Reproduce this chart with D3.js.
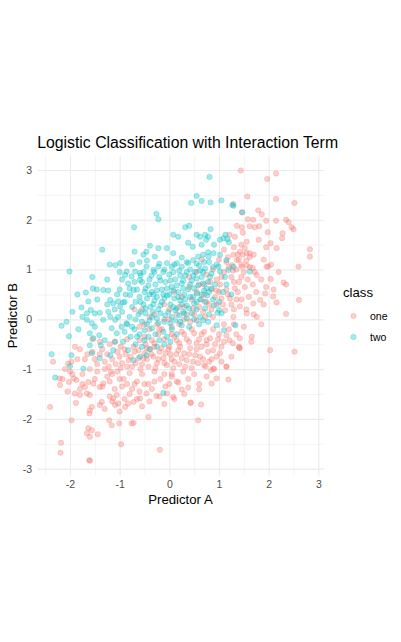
<!DOCTYPE html>
<html>
<head>
<meta charset="utf-8">
<script src="https://d3js.org/d3.v7.min.js"></script>
<style>
  body { margin: 0; background: #fff; }
  text { font-family: "Liberation Sans", Arial, Helvetica, sans-serif; }
  .grid line { stroke: #EBEBEB; }
  .grid path { display: none; }
  .axis path, .axis line { display: none; }
  .axis text { fill: #4D4D4D; font-size: 10.5px; }
</style>
</head>
<body>
<div id="chart"></div>
<script>
// Chart data
const classNames = ['one', 'two'];
const classColors = ['#F8766D', '#00BFC4'];
const majorTicks = [-3, -2, -1, 0, 1, 2, 3];
const minorTicks = [-2.5, -1.5, -0.5, 0.5, 1.5, 2.5];

const classOne = [
  [1.44,2.99],[2.15,2.93],[1.97,2.82],[1.57,2.47],[2.15,2.42],[2.52,2.34],[1.29,2.32],[1.79,2.19],[1.86,2.11],[1.46,2.15],
  [1.58,2.01],[1.69,2.00],[1.95,1.98],[2.15,1.98],[2.35,2.00],[2.40,1.95],[1.36,1.88],[1.46,1.85],[1.62,1.87],[1.72,1.85],
  [1.81,1.87],[1.98,1.75],[2.28,1.73],[2.46,1.85],[2.50,1.81],[1.21,1.70],[1.32,1.66],[1.48,1.74],[2.27,1.63],[2.04,1.53],
  [2.16,1.43],[2.83,1.41],[2.83,1.26],[1.56,1.56],[1.52,1.43],[1.56,1.33],[1.62,1.33],[1.42,1.36],[1.29,1.30],[1.36,1.19],
  [1.26,1.09],[1.46,1.06],[1.56,1.08],[1.68,1.03],[1.76,0.89],[1.96,1.06],[1.99,1.06],[2.60,1.06],[2.04,0.81],[2.30,0.74],
  [1.93,0.52],[2.09,0.46],[2.16,0.34],[2.61,0.39],[1.83,0.39],[1.69,0.32],[1.76,0.05],[1.56,0.12],[1.29,0.05],[1.42,0.26],
  [2.35,0.11],[2.03,-0.62],[2.52,-0.65],[1.66,-0.35],[1.42,-0.38],[1.21,-0.42],[1.42,-0.58],[1.02,-0.68],[1.15,-0.95],[1.19,-1.21],
  [0.95,-1.19],[0.84,-1.02],[0.89,-0.99],[0.73,-0.95],[0.58,-2.03],[0.43,-1.68],[0.60,-1.41],[0.25,-1.41],[0.08,-1.56],[-0.05,-1.49],
  [-0.26,-1.54],[-0.46,-1.49],[-0.59,-1.59],[-0.72,-1.66],[-0.19,-2.62],[-0.42,-1.96],[-0.76,-2.09],[-0.72,-2.08],[-1.01,-2.09],[-1.16,-2.13],
  [-1.21,-2.03],[-0.97,-2.51],[-1.97,-2.03],[-1.61,-2.83],[-1.60,-2.84],[-2.18,-2.48],[-2.19,-2.68],[-2.40,-1.76],[-1.63,-2.19],[-1.56,-2.23],
  [-1.66,-2.29],[-1.60,-2.36],[-1.44,-2.31],[-2.20,-1.32],[-2.21,-1.19],[-2.34,-0.85],[-2.02,-1.26],[-1.92,-1.19],[-1.87,-1.22],[-2.00,-1.05],
  [-2.04,-0.89],[-1.97,-0.85],[-1.90,-1.49],[-1.88,-1.68],[-1.80,-1.52],[-1.66,-1.49],[-1.60,-1.52],[-1.70,-1.36],[-1.63,-1.26],[-1.53,-1.29],
  [-1.40,-1.36],[-1.33,-1.29],[-1.60,-1.83],[-1.56,-1.76],[-1.61,-1.89],[-1.40,-1.72],[-1.36,-1.66],[-1.13,-1.59],[-1.06,-1.52],[-1.09,-1.72],
  [-1.03,-1.69],[-0.89,-1.76],[-0.83,-1.69],
  [-1.30,-0.85],[-1.22,-0.95],[-1.15,-0.80],[-1.08,-0.90],[-1.00,-0.75],[-0.95,-0.88],[-0.88,-0.70],[-0.82,-0.82],[-0.75,-0.95],[-0.70,-0.65],
  [-0.62,-0.78],[-0.55,-0.90],[-0.50,-0.68],[-0.45,-0.80],[-0.38,-0.60],[-0.32,-0.75],[-0.25,-0.88],[-0.20,-0.65],[-0.12,-0.78],[-0.05,-0.92],
  [0.02,-0.70],[0.10,-0.85],[0.18,-0.62],[0.25,-0.78],[0.32,-0.95],[0.40,-0.70],[0.48,-0.85],[0.55,-0.60],[0.62,-0.75],[0.70,-0.92],
  [0.78,-0.65],[-1.45,-1.05],[-1.25,-1.15],[-1.05,-1.05],[-0.92,-1.20],[-0.80,-1.08],[-0.65,-1.25],[-0.55,-1.10],[-0.42,-1.30],[-0.30,-1.05],
  [-0.18,-1.20],[-0.08,-1.35],[0.05,-1.10],[0.15,-1.25],[0.28,-1.05],[0.38,-1.20],[0.50,-1.10],[-0.35,-1.40],[-0.60,-1.45],[-0.20,-1.55],
  [0.00,-1.30],[-1.10,-0.45],[-0.98,-0.55],[-0.85,-0.40],[-0.72,-0.55],[-0.60,-0.42],[-0.48,-0.50],[-0.35,-0.42],[-0.22,-0.30],[-0.10,-0.40],
  [0.00,-0.55],[0.10,-0.35],[0.20,-0.48],[0.30,-0.30],[0.40,-0.45],[0.50,-0.28],[0.60,-0.40],[0.70,-0.25],[0.82,-0.38],[0.92,-0.50],
  [1.00,-0.30],[1.10,-0.45],[1.20,-0.20],[1.35,-0.30],[1.50,-0.15],[0.20,-0.10],[0.30,0.00],[0.42,-0.05],[0.50,0.10],[0.60,0.25],
  [0.68,0.15],[0.75,0.35],[0.85,0.20],[0.92,0.45],[1.00,0.55],[1.08,0.30],[1.15,0.60],[1.22,0.42],[1.30,0.75],[1.38,0.55],
  [1.45,0.85],[1.52,0.65],[1.60,0.45],[1.68,0.70],[1.75,0.55],[1.85,0.80],[1.90,0.30],[1.95,0.65],[1.10,0.95],[1.20,1.05],
  [1.35,1.00],[1.25,0.85],[1.40,1.20],[1.48,1.30],[1.55,1.18],[1.62,1.25],[0.95,0.80],[0.85,0.60],[0.70,0.50],[0.60,0.70],
  [0.75,0.90],[0.88,1.00],[1.00,1.20],[1.10,1.40],[1.18,1.25],[0.45,0.40],[0.30,0.25],[0.15,0.10],[0.05,-0.15],[-0.10,0.00],
  [-0.25,-0.10],[-0.40,0.05],[-0.55,0.20],[-0.70,0.20],[-0.60,-0.15],[-0.40,-0.20],[0.00,0.20],[0.25,0.45],[0.55,0.55],[0.40,0.65],
  [1.55,0.20],[1.70,0.10],[1.85,-0.10],[1.65,-0.45],[1.40,-0.55],[1.25,-0.75],[1.05,-0.85],[0.90,-1.00],[0.75,-1.15],[0.60,-1.30],
  [0.85,-0.80],[1.10,-0.10],[1.30,0.20],[1.45,0.40],[1.72,0.95],[1.90,1.20],[2.05,1.10],[2.20,0.95],[2.35,0.70],[2.10,0.60],
  [1.95,1.45],[1.80,1.60],[1.70,1.30],[-1.70,-0.80],[-1.80,-0.60],[-1.90,-0.55],[-1.55,-0.65],[-1.45,-0.90],[-1.60,-1.00],[-1.35,-0.60],
  [-1.20,-0.50],[-1.40,-0.45],[-1.55,-0.40],[-1.75,-1.10],[-1.50,-1.20],[-1.35,-1.35],[-1.20,-1.25],[-1.10,-1.40],[-0.95,-1.35],[-0.80,-1.50],
  [-0.70,-1.30],[-0.90,-1.60],[-1.15,-1.65],[-1.30,-1.80],[-1.00,-1.85],[-0.55,-1.75],[-0.40,-1.65],[-0.10,-1.70],[0.10,-1.60],[0.30,-1.50],
  [-1.80,-1.40],[-1.95,-1.10],[-2.10,-1.00],[-2.05,-1.45],[1.41,-0.57],[1.15,-0.95],[0.85,-1.29],[0.38,-1.37],[0.18,-1.27],[0.43,-1.67],
  [0.64,-1.71],[0.05,-1.15],
  [-1.25,-0.70],[-1.18,-1.05],[-1.05,-0.65],[-0.98,-0.98],[-0.90,-0.60],[-0.85,-0.95],[-0.78,-0.75],[-0.68,-0.88],[-0.62,-0.62],[-0.58,-1.00],
  [-0.52,-0.78],[-0.45,-0.58],[-0.42,-0.95],[-0.36,-0.70],[-0.30,-0.55],[-0.28,-0.98],[-0.22,-0.80],[-0.16,-0.58],[-0.10,-0.88],[-0.08,-0.68],
  [-0.02,-0.60],[0.05,-0.80],[0.08,-0.98],[0.14,-0.70],[0.20,-0.90],[0.22,-0.55],[0.30,-0.68],[0.35,-0.82],[0.42,-0.58],[0.45,-0.98],
  [0.52,-0.72],[0.58,-0.88],[0.65,-0.55],[0.68,-0.80],[0.75,-0.50],[0.80,-0.85],[0.88,-0.62],[0.95,-0.75],
  [-0.50,-0.35],[-0.30,-0.48],[-0.15,-0.20],[0.05,-0.30],[0.15,-0.42],[0.25,-0.25],[0.35,-0.40],[0.45,-0.20],[0.55,-0.48],[0.65,-0.30],
  [0.75,-0.42],[0.88,-0.20],[0.98,-0.40],[1.05,-0.55],[1.15,-0.32],[1.28,-0.48],[1.30,-0.10],
  [0.35,0.10],[0.48,0.22],[0.55,-0.02],[0.65,0.40],[0.72,0.05],[0.80,0.30],[0.88,0.05],[0.95,0.30],[1.02,0.70],[1.05,0.42],
  [1.12,0.18],[1.18,0.50],[1.25,0.30],[1.32,0.62],[1.35,0.40],[1.40,0.75],[1.28,0.98],[1.15,1.15],[1.05,0.85],[0.95,0.58],
  [0.82,0.75],[1.45,1.10],[1.50,0.95],[1.58,0.80],[1.62,1.05],[1.38,1.30],[1.30,1.45],[1.45,1.50],
  [-1.65,-0.70],[-1.50,-0.80],[-1.40,-0.70],[-1.30,-1.00],[-1.15,-1.10],[-1.00,-1.20],[-0.85,-1.30],[-0.75,-1.40],[-0.50,-1.30],[-0.30,-1.25],
  [-0.10,-1.10],[-2.15,-1.20],[-1.85,-0.80],[-1.75,-1.30],[-1.20,-1.55],[-0.65,-1.60],
  [-0.30,0.10],[-0.10,0.30],[0.10,0.55],[0.20,0.25],[0.40,0.85],[0.55,0.95],[0.65,1.20],[0.70,0.70],[-0.50,-0.10],[-0.20,-0.20],
  [0.00,0.00]
];

const classTwo = [
  [0.81,2.86],[0.55,2.48],[0.65,2.38],[0.83,2.35],[0.44,2.34],[1.05,2.39],[1.27,2.30],[1.29,2.28],[1.47,2.15],[-0.26,2.12],
  [-0.22,2.01],[-0.71,1.85],[0.32,1.85],[0.40,1.88],[0.83,1.81],[0.08,1.70],[0.18,1.66],[0.55,1.70],[0.62,1.66],[0.72,1.70],
  [0.78,1.66],[0.74,1.60],[1.02,1.60],[1.09,1.63],[1.17,1.61],[1.13,1.70],[1.20,1.55],[-1.35,1.40],[-0.39,1.48],[-0.22,1.43],
  [-0.05,1.43],[-0.46,1.36],[0.38,1.54],[0.47,1.46],[0.65,1.50],[0.90,1.50],[-0.70,1.36],[-0.52,1.30],[-0.29,1.26],[0.08,1.33],
  [0.25,1.24],[-1.09,1.09],[-0.99,1.13],[-2.01,0.96],
  [-1.68,0.54],[-1.63,0.36],[-1.54,0.62],[-1.46,0.60],[-1.33,0.59],[-1.23,0.58],[-1.95,0.15],[-2.07,-0.05],[-2.17,-0.13],[-2.02,-0.34],
  [-1.83,-0.20],[-1.77,0.24],[-1.66,0.12],[-1.58,0.19],[-1.50,0.12],[-1.40,0.13],[-1.66,-0.01],[-1.56,-0.08],[-1.60,-0.28],[-1.53,-0.38],
  [-1.41,-0.32],[-1.30,-0.42],[-1.38,-0.52],[-1.60,-0.52],[-1.56,-0.68],[-1.40,-0.78],[-2.37,-0.70],[-1.97,-0.72],[-2.00,-0.94],[-2.30,-1.17],
  [-1.73,-0.99],[-1.19,0.39],[-1.13,0.32],[-1.03,0.36],[-0.99,0.26],[-0.93,0.34],[-1.19,0.05],[-1.09,-0.01],[-1.03,0.05],[-1.23,0.15],
  [-1.33,-0.01],[-1.16,-0.18],[-1.06,-0.28],[-0.96,-0.15],[-0.86,-0.08],[-1.09,-0.45],[-0.93,-0.45],[-0.83,-0.62],[-1.13,-0.62],[-1.19,-0.72],
  [-0.72,-0.82],[-0.59,-0.75],[-0.46,-0.72],[-0.12,-1.48],
  [-0.79,0.49],[-0.72,0.59],[-0.83,0.72],[-0.89,0.89],[-0.76,0.86],[-0.69,0.96],[-0.86,0.96],[-0.59,0.79],[-0.59,0.93],[-0.46,1.06],
  [-0.32,0.99],[-0.22,1.06],[-0.05,1.13],[0.05,1.06],[0.15,1.13],[0.25,1.06],[0.38,1.13],[0.48,1.19],[0.58,1.26],[0.68,1.30],
  [0.79,1.26],[0.89,1.33],[1.02,1.30],[0.99,1.06],[1.02,0.96],[1.15,1.19],[1.19,0.99],[1.29,1.06],[1.62,0.96],
  [-0.55,0.75],[-0.48,0.62],[-0.40,0.80],[-0.35,0.55],[-0.28,0.70],[-0.20,0.85],[-0.15,0.60],[-0.08,0.75],[0.00,0.90],[0.05,0.65],
  [0.12,0.80],[0.18,0.55],[0.25,0.72],[0.32,0.88],[0.38,0.60],[0.45,0.78],[0.52,0.95],[0.58,0.68],[0.65,0.85],[0.72,1.02],
  [0.78,0.75],[0.85,0.92],[-0.60,0.45],[-0.52,0.30],[-0.45,0.42],[-0.38,0.25],[-0.30,0.38],[-0.22,0.20],[-0.15,0.35],[-0.05,0.48],
  [0.02,0.30],[0.10,0.42],[0.15,0.22],[0.22,0.38],[0.30,0.50],[0.35,0.28],[0.42,0.45],[0.50,0.32],[0.56,0.52],[0.62,0.40],
  [0.70,0.58],[0.76,0.48],[0.85,0.62],[0.92,0.70],[-0.62,0.10],[-0.55,-0.05],[-0.48,0.12],[-0.40,-0.02],[-0.33,0.15],[-0.25,0.02],
  [-0.18,0.12],[-0.10,-0.05],[-0.02,0.15],[0.05,0.05],[0.12,0.18],[0.20,0.08],[0.28,0.15],[0.35,0.02],[0.45,0.12],[0.55,0.20],
  [0.62,0.05],[0.72,0.22],[0.80,0.10],[0.90,0.28],[1.00,0.35],[1.05,0.12],[-0.70,-0.20],[-0.60,-0.30],[-0.50,-0.22],[-0.42,-0.35],
  [-0.35,-0.18],[-0.28,-0.30],[-0.20,-0.42],[-0.12,-0.25],[-0.05,-0.35],[0.05,-0.20],[0.15,-0.30],[0.25,-0.12],[0.40,-0.15],[0.60,-0.10],
  [0.78,-0.05],[0.95,-0.12],[1.10,-0.22],[-0.65,0.60],[-0.58,0.88],[-0.30,0.95],[-0.10,1.00],[0.20,0.98],[0.42,1.00],[0.60,1.08],
  [0.35,1.15],[0.10,1.10],[-0.20,1.12],[-0.45,1.18],[0.80,1.15],[0.95,1.10],[0.68,0.95],[0.48,0.88],[0.28,0.62],[0.08,0.58],
  [-0.12,0.50],[-0.32,0.50],[-0.50,0.55],[-0.75,0.25],[-0.80,0.05],[-0.68,0.35],[-0.88,0.50],[-1.00,0.60],[-0.95,0.15],[-0.85,-0.10],
  [-0.78,-0.35],[-0.68,-0.50],[-0.55,-0.55],[-0.40,-0.60],[-0.25,-0.55],[-0.10,-0.50],[0.02,-0.45],[1.33,-0.12],[1.25,0.50],[1.15,0.70],
  [1.08,0.55],[0.97,0.13],[1.00,0.19],[1.12,0.85],
  [-0.52,0.95],[-0.42,0.68],[-0.36,0.88],[-0.25,0.58],[-0.18,0.78],[-0.12,0.95],[-0.05,0.62],[0.02,0.78],[0.08,0.95],[0.15,0.68],
  [0.22,0.88],[0.28,0.78],[0.35,0.95],[0.42,0.70],[0.50,0.62],[0.55,0.82],[0.62,0.98],[0.68,0.72],[0.75,0.62],[0.82,0.85],
  [0.88,1.05],[0.78,1.35],[0.70,1.15],[0.55,1.12],[-0.58,0.35],[-0.48,0.22],[-0.40,0.50],[-0.32,0.30],[-0.25,0.45],[-0.18,0.28],
  [-0.10,0.42],[0.00,0.50],[0.08,0.25],[0.18,0.45],[0.25,0.30],[0.32,0.40],[0.40,0.22],[0.48,0.45],[0.55,0.35],[0.65,0.50],
  [0.72,0.35],[0.80,0.55],[0.88,0.40],[-0.68,0.00],[-0.58,0.15],[-0.45,-0.10],[-0.35,0.05],[-0.22,-0.08],[-0.08,0.08],[0.02,-0.08],
  [0.12,-0.02],[0.22,-0.05],[0.30,0.12],[0.50,0.00],[0.68,-0.02],[-0.90,0.35],[-0.80,0.62],[-0.70,0.75],[-0.95,0.80],[-1.05,0.50],
  [-1.10,0.20],[-0.90,-0.25],[-0.75,-0.15],[-0.65,-0.35],[-0.50,-0.42],[-1.25,0.30],[-1.45,0.40],[-1.50,-0.15],[-1.75,0.05],[-1.85,0.50],
  [-1.55,0.85],[-1.25,0.80],[-1.20,1.10],[-1.00,0.95],[-0.75,1.10],[-0.60,1.15]
];

// Chart dimensions
const width = 401;
const height = 642;
const panel = { left: 37.2, right: 323.8, top: 155.6, bottom: 475.6 };

const svg = d3.select('div#chart').append('svg').attr('width', width).attr('height', height);

const x = d3.scaleLinear().domain([-2.66, 3.11]).range([panel.left, panel.right]);
const y = d3.scaleLinear().domain([-3.14, 3.29]).range([panel.bottom, panel.top]);

const xMajor = majorTicks.filter(d => d > -2.66 && d < 3.11);
const plainFormat = d => String(d);

// Grid lines
const gridGroup = svg.append('g').attr('class', 'grid');
const panelW = panel.right - panel.left;
const panelH = panel.bottom - panel.top;

gridGroup.append('g').attr('transform', `translate(0,${panel.bottom})`)
  .call(d3.axisBottom(x).tickValues(minorTicks).tickSize(-panelH).tickFormat(''))
  .selectAll('line').attr('stroke-width', 0.55);
gridGroup.append('g').attr('transform', `translate(${panel.left},0)`)
  .call(d3.axisLeft(y).tickValues(minorTicks).tickSize(-panelW).tickFormat(''))
  .selectAll('line').attr('stroke-width', 0.55);
gridGroup.append('g').attr('transform', `translate(0,${panel.bottom})`)
  .call(d3.axisBottom(x).tickValues(xMajor).tickSize(-panelH).tickFormat(''))
  .selectAll('line').attr('stroke-width', 1.1);
gridGroup.append('g').attr('transform', `translate(${panel.left},0)`)
  .call(d3.axisLeft(y).tickValues(majorTicks).tickSize(-panelW).tickFormat(''))
  .selectAll('line').attr('stroke-width', 1.1);

// Axes labels
svg.append('g').attr('class', 'axis')
  .attr('transform', `translate(0,${panel.bottom})`)
  .call(d3.axisBottom(x).tickValues(xMajor).tickSize(0).tickPadding(5).tickFormat(plainFormat));
svg.append('g').attr('class', 'axis')
  .attr('transform', `translate(${panel.left},0)`)
  .call(d3.axisLeft(y).tickValues(majorTicks).tickSize(0).tickPadding(5).tickFormat(plainFormat));

// Points
const pointGroup = svg.append('g').attr('class', 'points');
[classOne, classTwo].forEach((pts, i) => {
  pointGroup.append('g').selectAll('circle').data(pts).enter()
    .append('circle')
    .attr('cx', d => x(d[0]))
    .attr('cy', d => y(d[1]))
    .attr('r', 2.7)
    .attr('fill', classColors[i])
    .attr('fill-opacity', 0.35)
    .attr('stroke', classColors[i])
    .attr('stroke-opacity', 0.35)
    .attr('stroke-width', 0.7);
});

// Titles
svg.append('text').text('Logistic Classification with Interaction Term')
  .attr('x', panel.left).attr('y', 148)
  .attr('font-size', '15.8px').attr('fill', '#000');
svg.append('text').text('Predictor A')
  .attr('x', (panel.left + panel.right) / 2).attr('y', 504)
  .attr('text-anchor', 'middle').attr('font-size', '13.2px').attr('fill', '#000');
svg.append('text').text('Predictor B')
  .attr('transform', `translate(17,${(panel.top + panel.bottom) / 2}) rotate(-90)`)
  .attr('text-anchor', 'middle').attr('font-size', '13.2px').attr('fill', '#000');

// Legend
const legend = svg.append('g').attr('class', 'legend');
legend.append('text').text('class').attr('x', 343).attr('y', 297)
  .attr('font-size', '13.2px').attr('fill', '#000');
const legendItems = legend.selectAll('g.item').data(classNames).enter()
  .append('g').attr('class', 'item')
  .attr('transform', (d, i) => `translate(0,${316 + i * 21})`);
legendItems.append('circle')
  .attr('cx', 353.5).attr('cy', 0).attr('r', 2.7)
  .attr('fill', (d, i) => classColors[i]).attr('fill-opacity', 0.35)
  .attr('stroke', (d, i) => classColors[i]).attr('stroke-opacity', 0.35).attr('stroke-width', 0.7);
legendItems.append('text').text(d => d)
  .attr('x', 370).attr('y', 3.7)
  .attr('font-size', '10.5px').attr('fill', '#000');
</script>
</body>
</html>
